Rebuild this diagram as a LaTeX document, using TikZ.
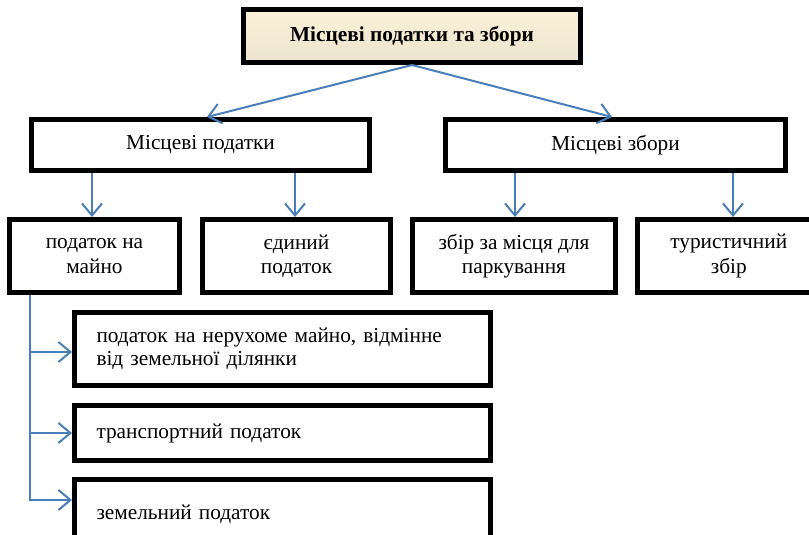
\documentclass[tikz,border=0pt]{standalone}
\usepackage{fontspec}
\setmainfont{Liberation Serif}
\usetikzlibrary{arrows.meta,shadows}
\definecolor{arrowblue}{HTML}{4A7EBB}
\definecolor{creamtop}{HTML}{FCF1D8}
\definecolor{creambot}{HTML}{EDE4CE}
\begin{document}
\begin{tikzpicture}[x=1pt,y=-1pt,
  box/.style={draw=black,line width=5pt,rectangle,inner sep=0pt,align=center,
    font=\fontsize{21.3}{24.3}\selectfont},
  wide/.style={box,minimum width=416pt,align=left,text width=372pt,
    font=\fontsize{21.3}{23}\selectfont},
  arr/.style={draw=arrowblue,line width=2pt,
    -{Straight Barb[length=12pt,width=20pt]}}]
\useasboundingbox (0,0) rectangle (809,535);
\clip (0,0) rectangle (809,535);
% top
\node[box,minimum width=337pt,minimum height=53pt,top color=creamtop,bottom color=creambot,
  drop shadow={shadow xshift=1pt,shadow yshift=-1.5pt,fill=black!35},
  font=\fontsize{21.3}{24}\selectfont\bfseries] (top) at (412,36) {Місцеві податки та збори};
% level 1
\node[box,minimum width=338pt,minimum height=51pt] (L1) at (200.5,145) {Місцеві податки};
\node[box,minimum width=340pt,minimum height=51pt] (R1) at (615.5,145) {Місцеві збори};
% level 2
\node[box,minimum width=170pt,minimum height=73pt] (B1) at (94.5,256) {податок на\\майно};
\node[box,minimum width=188pt,minimum height=73pt] (B2) at (296.5,256) {єдиний\\податок};
\node[box,minimum width=203pt,minimum height=73pt] (B3) at (514,256) {збір за місця для\\паркування};
\node[box,minimum width=182.5pt,minimum height=73pt] (B4) at (728.75,256) {туристичний\\збір};
% level 3
\node[wide,minimum height=73pt] (Ba) at (282.5,349) {податок на нерухоме майно, відмінне\\від земельної ділянки};
\node[wide,minimum height=55pt] (Bb) at (282.5,433) {транспортний податок};
\node[wide,minimum height=69pt] (Bc) at (282.5,514) {земельний податок};
% connectors
\draw[arr] (top.south) -- ([xshift=6.5pt]L1.north);
\draw[arr] (top.south) -- ([xshift=-3.5pt]R1.north);
\coordinate (a1) at ([xshift=-2.5pt]B1.north);
\coordinate (a2) at ([xshift=-1.5pt]B2.north);
\coordinate (a3) at ([xshift=1pt]B3.north);
\coordinate (a4) at ([xshift=4.25pt]B4.north);
\draw[arr] (a1 |- L1.south) -- (a1);
\draw[arr] (a2 |- L1.south) -- (a2);
\draw[arr] (a3 |- R1.south) -- (a3);
\draw[arr] (a4 |- R1.south) -- (a4);
\coordinate (t) at ([xshift=22.5pt]B1.south west);
\draw[arr] (t) |- ([yshift=-3pt]Ba.west);
\draw[arr] (t) |- (Bb.west);
\draw[arr] (t) |- ([yshift=14pt]Bc.west);
\end{tikzpicture}
\end{document}
